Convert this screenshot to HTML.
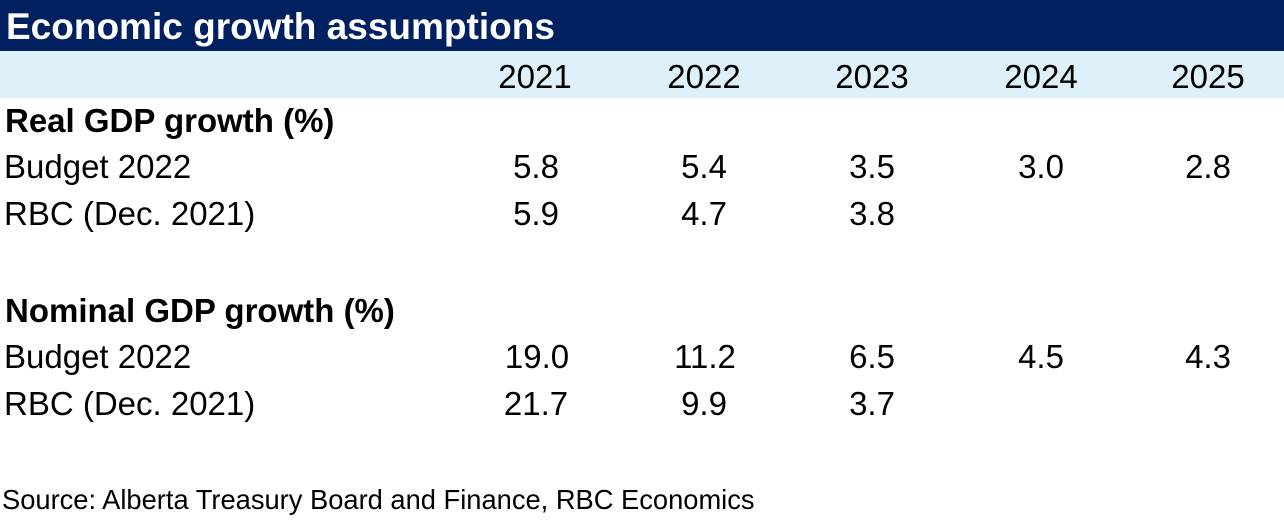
<!DOCTYPE html>
<html>
<head>
<meta charset="utf-8">
<style>
  html,body{margin:0;padding:0;background:#ffffff;}
  svg{display:block;}
  text{font-family:"Liberation Sans", Arial, sans-serif;fill:#000;}
</style>
</head>
<body>
<svg width="1284" height="521" viewBox="0 0 1284 521" xmlns="http://www.w3.org/2000/svg">
  <rect x="0" y="0" width="1284" height="521" fill="#ffffff"/>
  <rect x="0" y="0" width="1284" height="51" fill="#002060"/>
  <rect x="0" y="51" width="1284" height="47" fill="#DEF0FA"/>

  <text x="6" y="39" font-size="37" font-weight="bold" style="fill:#ffffff">Economic growth assumptions</text>

  <g font-size="33" text-anchor="middle">
    <text x="535" y="88">2021</text>
    <text x="704" y="88">2022</text>
    <text x="872" y="88">2023</text>
    <text x="1041" y="88">2024</text>
    <text x="1208" y="88">2025</text>
  </g>

  <text x="5" y="132" font-size="33" font-weight="bold">Real GDP growth (%)</text>
  <text x="4" y="178" font-size="33">Budget 2022</text>
  <text x="4" y="225" font-size="33">RBC (Dec. 2021)</text>

  <g font-size="33" text-anchor="middle">
    <text x="536" y="178">5.8</text>
    <text x="704" y="178">5.4</text>
    <text x="872" y="178">3.5</text>
    <text x="1041" y="178">3.0</text>
    <text x="1208" y="178">2.8</text>
    <text x="536" y="225">5.9</text>
    <text x="704" y="225">4.7</text>
    <text x="872" y="225">3.8</text>
  </g>

  <text x="5" y="322" font-size="33" font-weight="bold">Nominal GDP growth (%)</text>
  <text x="4" y="368" font-size="33">Budget 2022</text>
  <text x="4" y="415" font-size="33">RBC (Dec. 2021)</text>

  <g font-size="33" text-anchor="middle">
    <text x="537" y="368">19.0</text>
    <text x="705" y="368">11.2</text>
    <text x="872" y="368">6.5</text>
    <text x="1041" y="368">4.5</text>
    <text x="1208" y="368">4.3</text>
    <text x="536" y="415">21.7</text>
    <text x="704" y="415">9.9</text>
    <text x="872" y="415">3.7</text>
  </g>

  <text x="2" y="509" font-size="27.3">Source: Alberta Treasury Board and Finance, RBC Economics</text>
</svg>
</body>
</html>
